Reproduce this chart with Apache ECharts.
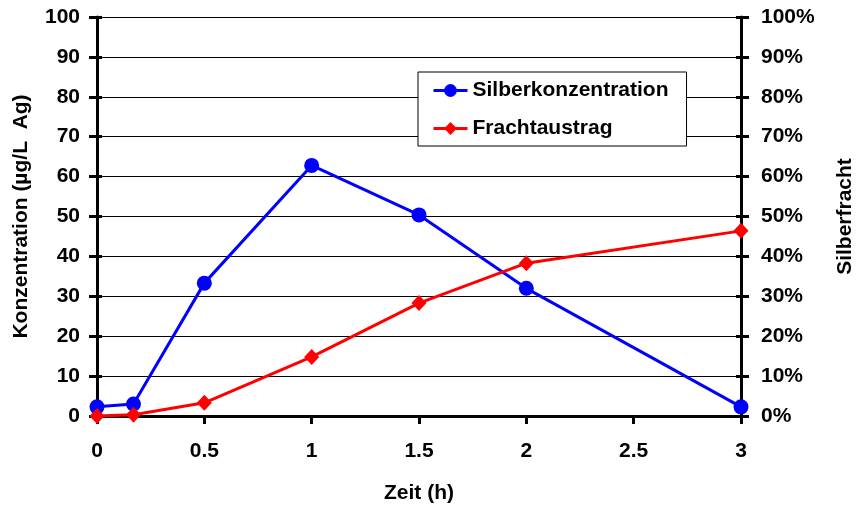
<!DOCTYPE html>
<html>
<head>
<meta charset="utf-8">
<script src="https://cdn.jsdelivr.net/npm/echarts@6/dist/echarts.min.js"></script>
<style>
  html, body { margin: 0; padding: 0; background: #fff; }
  #ec { width: 856px; height: 506px; }
</style>
</head>
<body>
<div id="ec"></div>
<script>
// Zeit in Stunden
var zeit = [0, 0.17, 0.5, 1, 1.5, 2, 3];
// Silberkonzentration (µg/L Ag)
var konz = [2.3, 3.0, 33.3, 62.8, 50.4, 32.0, 2.3];
// Frachtaustrag (%)
var fracht = [0, 0.3, 3.3, 14.8, 28.3, 38.3, 46.4];

var font = 'Liberation Sans, Arial, sans-serif';

function pairs(xs, ys) {
  var out = [];
  xs.forEach(function(x, i) { out.push([x, ys[i]]); });
  return out;
}

var ec = echarts.init(document.getElementById('ec'));

var lbl = { fontFamily: font, fontWeight: 'bold', fontSize: 21, color: '#000' };
var ttl = { fontFamily: font, fontWeight: 'bold', fontSize: 21, color: '#000' };

var option = {
  animation: false,
  backgroundColor: '#fff',
  grid: { left: 97, right: 115, top: 17, bottom: 90, outerBoundsMode: 'none', containLabel: false },
  legend: {
    orient: 'vertical',
    left: 418,
    top: 72,
    padding: [8, 18, 7, 14],
    itemGap: 17,
    itemWidth: 34,
    itemHeight: 16,
    borderColor: '#000',
    borderWidth: 1,
    borderRadius: 0,
    backgroundColor: '#fff',
    lineStyle: { width: 3 },
    textStyle: { fontFamily: font, fontWeight: 'bold', fontSize: 21, color: '#000' },
    data: ['Silberkonzentration', 'Frachtaustrag']
  },
  xAxis: {
    type: 'value',
    min: 0, max: 3, interval: 0.5,
    name: 'Zeit (h)',
    nameLocation: 'middle',
    nameGap: 67,
    nameTextStyle: ttl,
    axisLine: { onZero: false, lineStyle: { color: '#000', width: 3 } },
    axisTick: { show: true, length: 8, lineStyle: { color: '#000', width: 3 } },
    axisLabel: Object.assign({ margin: 25 }, lbl),
    splitLine: { show: false }
  },
  yAxis: [
    {
      type: 'value',
      min: 0, max: 100, interval: 10,
      position: 'left',
      name: 'Konzentration (µg/L  Ag)',
      nameLocation: 'middle',
      nameGap: 65,
      nameTextStyle: ttl,
      axisLine: { show: true, lineStyle: { color: '#000', width: 3 } },
      axisTick: { show: true, length: 8, lineStyle: { color: '#000', width: 3 } },
      axisLabel: Object.assign({ margin: 17 }, lbl),
      splitLine: { show: true, lineStyle: { color: '#000', width: 1 } }
    },
    {
      type: 'value',
      min: 0, max: 100, interval: 10,
      position: 'right',
      name: 'Silberfracht',
      nameLocation: 'middle',
      nameRotate: 90,
      nameGap: 94,
      nameTextStyle: ttl,
      axisLine: { show: true, lineStyle: { color: '#000', width: 3 } },
      axisTick: { show: true, length: 8, lineStyle: { color: '#000', width: 3 } },
      axisLabel: Object.assign({ margin: 20, formatter: '{value}%' }, lbl),
      splitLine: { show: false }
    },
    // innere Tickmarken (Kreuz-Ticks)
    {
      type: 'value', min: 0, max: 100, interval: 10, position: 'left',
      axisLine: { show: false }, axisLabel: { show: false }, splitLine: { show: false },
      axisTick: { show: true, inside: true, length: 5, lineStyle: { color: '#000', width: 3 } }
    },
    {
      type: 'value', min: 0, max: 100, interval: 10, position: 'right',
      axisLine: { show: false }, axisLabel: { show: false }, splitLine: { show: false },
      axisTick: { show: true, inside: true, length: 5, lineStyle: { color: '#000', width: 3 } }
    }
  ],
  series: [
    {
      name: 'Silberkonzentration',
      type: 'line',
      yAxisIndex: 0,
      symbol: 'circle',
      symbolSize: 15,
      itemStyle: { color: '#0000ff' },
      lineStyle: { color: '#0000ff', width: 3 },
      data: pairs(zeit, konz),
      z: 3
    },
    {
      name: 'Frachtaustrag',
      type: 'line',
      yAxisIndex: 1,
      symbol: 'diamond',
      symbolSize: [15, 16],
      itemStyle: { color: '#ff0000' },
      lineStyle: { color: '#ff0000', width: 3 },
      data: pairs(zeit, fracht),
      z: 4
    }
  ]
};

ec.setOption(option);
</script>
</body>
</html>
